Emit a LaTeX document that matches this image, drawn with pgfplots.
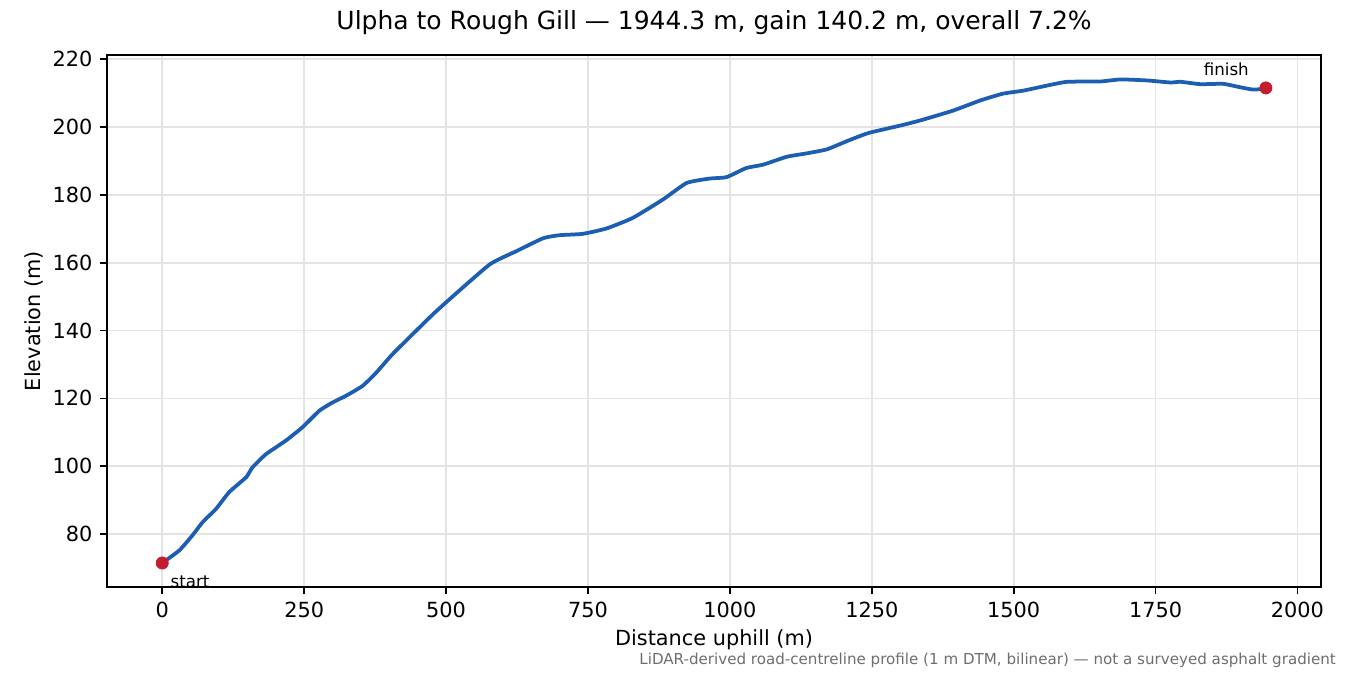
\documentclass[border=0pt]{standalone}
\usepackage{pgfplots}
\pgfplotsset{compat=1.18}
\usepackage{fontspec}
\setmainfont{DejaVu Sans}
\definecolor{profile}{RGB}{27,94,178}
\definecolor{endpt}{RGB}{196,30,46}
\definecolor{gridc}{RGB}{228,228,228}
\definecolor{notec}{RGB}{110,110,110}

\begin{document}
\begin{tikzpicture}
\begin{axis}[
  name=prof,
  scale only axis, width=582.7pt, height=255.4pt,
  xmin=-97.2, xmax=2041.5, ymin=64.4, ymax=221.2,
  xtick={0,250,...,2000}, ytick={80,100,...,220},
  grid=major, grid style={gridc, line width=0.8pt},
  axis line style={line width=0.8pt},
  tick style={black, line width=0.8pt},
  tick align=outside, major tick length=3.5pt, tick pos=left,
  scaled ticks=false,
  /pgf/number format/assume math mode=true,
  /pgf/number format/1000 sep={},
  ticklabel style={font=\fontsize{10}{12}\selectfont},
  label style={font=\fontsize{10}{12}\selectfont},
  xlabel={Distance uphill (m)}, ylabel={Elevation (m)},
  xlabel style={at={(axis description cs:0.5,-0.1089)}, anchor=base},
  ylabel style={at={(axis description cs:-0.0549,0.5)}, anchor=base, rotate=0},
  title={Ulpha to Rough Gill — 1944.3 m, gain 140.2 m, overall 7.2\%},
  title style={font=\fontsize{12}{14}\selectfont, at={(axis description cs:0.5,1.0243)}, anchor=base},
  clip=false,
]
\addplot[profile, line width=1.8pt, smooth, tension=0.3] coordinates {
(0,71.5) (30,75.2) (53,79.6) (71,83.5) (95,87.5) (118,92.4) (148,96.8)
(159,99.7) (183,103.6) (218,107.6) (247,111.5) (277,116.4) (300,118.8)
(324,120.8) (353,123.7) (377,127.6) (406,133.1) (447,139.9) (477,144.8)
(506,149.2) (577,159.5) (624,163.4) (671,167.2) (700,168.1) (741,168.5)
(783,170.1) (829,173.2) (882,178.6) (924,183.5) (965,184.8) (994,185.2)
(1029,187.9) (1059,188.9) (1100,191.2) (1135,192.2) (1171,193.4)
(1206,195.8) (1244,198.2) (1300,200.4) (1335,201.9) (1393,204.8)
(1441,207.8) (1481,209.8) (1517,210.7) (1559,212.2) (1594,213.3)
(1653,213.4) (1688,214.0) (1735,213.7) (1776,213.1) (1794,213.3)
(1829,212.6) (1869,212.7) (1899,211.7) (1922,211.0) (1944.3,211.3)
};
\addplot[only marks, mark=*, mark size=2.9pt, endpt] coordinates {(0,71.5) (1944.3,211.5)};
\node[inner sep=0pt, anchor=base west, xshift=3.8pt, yshift=-11.9pt, font=\fontsize{8}{10}\selectfont] at (axis cs:0,71.5) {start};
\node[inner sep=0pt, anchor=base east, xshift=-8pt, yshift=5.9pt, font=\fontsize{8}{10}\selectfont] at (axis cs:1944.3,211.5) {finish};
\node[inner sep=0pt, anchor=base east, text=notec, font=\fontsize{7.25}{8}\selectfont] at (axis description cs:1.0125,-0.1449) {LiDAR-derived road-centreline profile (1 m DTM, bilinear) — not a surveyed asphalt gradient};
\end{axis}
\pgfresetboundingbox
\useasboundingbox ([shift={(-51.4pt,-42.2pt)}]prof.south west) rectangle ([shift={(13.9pt,26.4pt)}]prof.north east);
\end{tikzpicture}
\end{document}
